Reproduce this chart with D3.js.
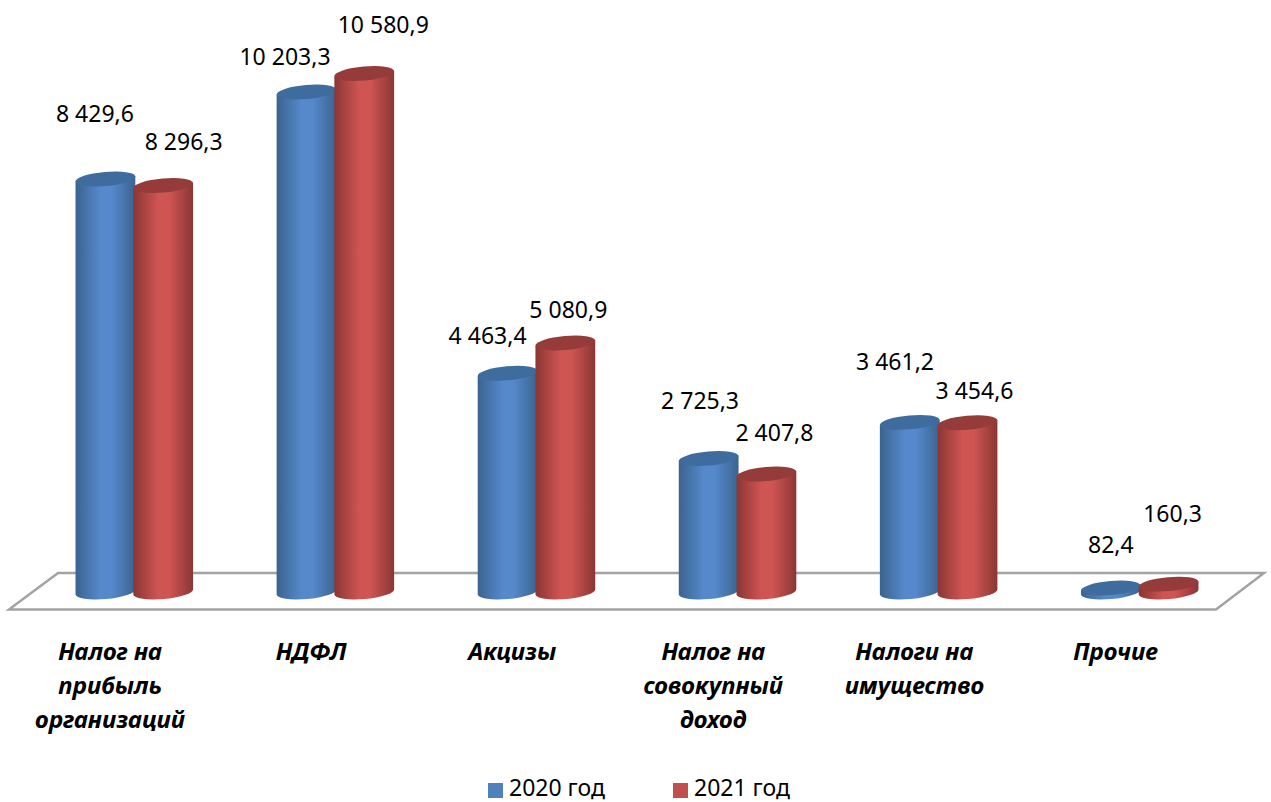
<!DOCTYPE html>
<html>
<head>
<meta charset="utf-8">
<script src="https://cdn.jsdelivr.net/npm/d3@7"></script>
<style>
  html, body { margin: 0; padding: 0; background: #fff; }
  svg { display: block; }
  text { font-family: "Noto Sans", "Open Sans", sans-serif; fill: #000; }
</style>
</head>
<body>
<div id="chart"></div>
<script>
var categories = ["Налог на прибыль организаций", "НДФЛ", "Акцизы", "Налог на совокупный доход", "Налоги на имущество", "Прочие"];
var categoryLines = [["Налог на", "прибыль", "организаций"], ["НДФЛ"], ["Акцизы"], ["Налог на", "совокупный", "доход"], ["Налоги на", "имущество"], ["Прочие"]];
var seriesNames = ["2020 год", "2021 год"];
var values2020 = [8429.6, 10203.3, 4463.4, 2725.3, 3461.2, 82.4];
var values2021 = [8296.3, 10580.9, 5080.9, 2407.8, 3454.6, 160.3];
var labels2020 = ["8 429,6", "10 203,3", "4 463,4", "2 725,3", "3 461,2", "82,4"];
var labels2021 = ["8 296,3", "10 580,9", "5 080,9", "2 407,8", "3 454,6", "160,3"];

// labels were moved by hand in the original, so each one has its own offset from the bar top
var labelShift2020 = [[-10.5, -66], [-21.5, -36], [-20, -38], [-8.6, -58.5], [-14.7, -61], [0, -44]];
var labelShift2021 = [[20.5, -44.5], [19, -49.5], [3, -34], [8, -42], [7, -33], [4, -71]];

var width = 1271, height = 802;
var rx = 30, ry = 7, tilt = -5;
var dyTilt = rx * Math.sin(tilt * Math.PI / 180);
var dxTilt = rx * Math.cos(tilt * Math.PI / 180);

var svg = d3.select("#chart").append("svg")
  .attr("width", width)
  .attr("height", height);

var x0 = d3.scaleBand().domain(categories).range([33.5, 1240]);
var x1 = d3.scaleBand().domain(seriesNames)
  .range([x0.bandwidth() / 2 - 57.5, x0.bandwidth() / 2 + 58]);
var y = d3.scaleLinear().domain([0, 12000]).range([592, 4]);

var palette = [
  { edge: "#3a638f", mid: "#5689cc", top: "#3f6c9e" },
  { edge: "#8a3634", mid: "#cf5553", top: "#953c3a" }
];

var defs = svg.append("defs");
palette.forEach(function (c, i) {
  var grad = defs.append("linearGradient").attr("id", "side" + i);
  grad.append("stop").attr("offset", "0%").attr("stop-color", c.edge);
  grad.append("stop").attr("offset", "42%").attr("stop-color", c.mid);
  grad.append("stop").attr("offset", "60%").attr("stop-color", c.mid);
  grad.append("stop").attr("offset", "100%").attr("stop-color", c.edge);
});

// floor
svg.append("path")
  .attr("d", "M9,609.5 L58,573 L1264,573 L1216,609.5 Z")
  .attr("fill", "#fff")
  .attr("stroke", "#a3a3a3")
  .attr("stroke-width", 2.5);

function sidePath(cx, topY, baseY) {
  return "M" + (cx - dxTilt) + "," + (topY - dyTilt) +
    " L" + (cx - dxTilt) + "," + (baseY - dyTilt) +
    " A" + rx + "," + ry + " " + tilt + " 0 0 " + (cx + dxTilt) + "," + (baseY + dyTilt) +
    " L" + (cx + dxTilt) + "," + (topY + dyTilt) + " Z";
}

function drawSeries(name, values, i) {
  var g = svg.append("g");
  var bars = g.selectAll("g").data(values).enter().append("g")
    .attr("transform", function (d, k) {
      return "translate(" + (x0(categories[k]) + x1(name) + x1.bandwidth() / 2) + ",0)";
    });

  bars.append("path")
    .attr("fill", "url(#side" + i + ")")
    .attr("d", function (d) { return sidePath(0, y(d), y(0)); });

  bars.append("ellipse")
    .attr("rx", rx)
    .attr("ry", ry)
    .attr("fill", palette[i].top)
    .attr("transform", function (d) {
      return "translate(0," + y(d) + ") rotate(" + tilt + ")";
    });
}

drawSeries(seriesNames[0], values2020, 0);
drawSeries(seriesNames[1], values2021, 1);

function drawLabels(name, values, labels, shift) {
  svg.append("g").selectAll("text").data(values).enter().append("text")
    .attr("x", function (d, k) {
      return x0(categories[k]) + x1(name) + x1.bandwidth() / 2 + shift[k][0];
    })
    .attr("y", function (d, k) { return y(d) + shift[k][1]; })
    .attr("text-anchor", "middle")
    .attr("dominant-baseline", "central")
    .style("font-size", "23px")
    .text(function (d, k) { return labels[k]; });
}

drawLabels(seriesNames[0], values2020, labels2020, labelShift2020);
drawLabels(seriesNames[1], values2021, labels2021, labelShift2021);

// category labels
var cat = svg.append("g").selectAll("text").data(categories).enter().append("text")
  .attr("text-anchor", "middle")
  .style("font-size", "24px")
  .style("font-weight", "bold")
  .style("font-style", "italic");

cat.each(function (d, k) {
  var cx = x0(d) + x0.bandwidth() / 2 - 24;
  d3.select(this).selectAll("tspan").data(categoryLines[k]).enter().append("tspan")
    .attr("x", cx)
    .attr("y", function (l, j) { return 660 + j * 34; })
    .text(function (l) { return l; });
});

// legend
var legendX = d3.scaleOrdinal().domain(seriesNames).range([488, 673]);
var legend = svg.append("g").selectAll("g").data(seriesNames).enter().append("g")
  .attr("transform", function (d) { return "translate(" + legendX(d) + ",783)"; });
legend.append("rect")
  .attr("width", 15)
  .attr("height", 15)
  .attr("fill", function (d, i) { return i === 0 ? "#4f81bd" : "#c0504d"; });
legend.append("text")
  .attr("x", 21)
  .attr("y", 13)
  .style("font-size", "23px")
  .text(function (d) { return d; });
</script>
</body>
</html>
